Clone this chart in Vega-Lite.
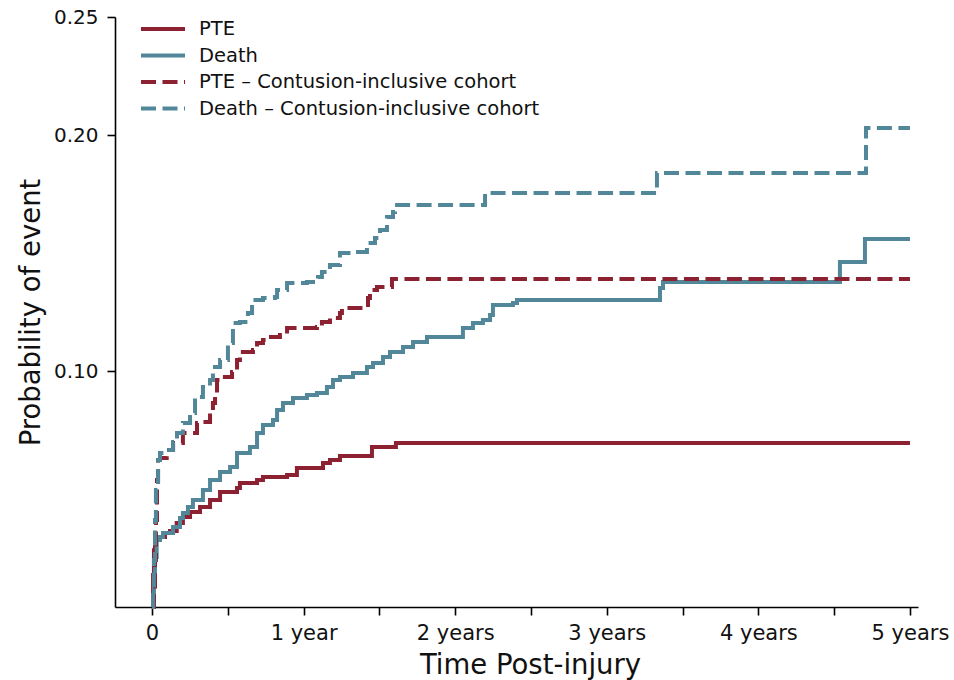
{
  "$schema": "https://vega.github.io/schema/vega-lite/v6.json",
  "width": 803,
  "height": 590,
  "autosize": {"type": "none"},
  "padding": {"left": 115, "top": 17, "right": 36, "bottom": 73},
  "background": "white",
  "config": {
    "view": {"stroke": null},
    "font": "DejaVu Sans",
    "axis": {
      "labelFont": "DejaVu Sans",
      "titleFont": "DejaVu Sans",
      "labelFontSize": 20,
      "titleFontSize": 27.5,
      "titleFontWeight": "normal",
      "labelColor": "#111111",
      "titleColor": "#111111",
      "domainColor": "#000000",
      "domainWidth": 1.6,
      "tickColor": "#000000",
      "tickWidth": 1.6,
      "tickSize": 8,
      "grid": false
    }
  },
  "data": {
    "values": [
      {"series": "PTE", "t": 0, "p": 0},
      {"series": "PTE", "t": 0.007, "p": 0.0136},
      {"series": "PTE", "t": 0.013, "p": 0.024},
      {"series": "PTE", "t": 0.02, "p": 0.0297},
      {"series": "PTE", "t": 0.086, "p": 0.0314},
      {"series": "PTE", "t": 0.119, "p": 0.0322},
      {"series": "PTE", "t": 0.163, "p": 0.0356},
      {"series": "PTE", "t": 0.204, "p": 0.0381},
      {"series": "PTE", "t": 0.251, "p": 0.0403},
      {"series": "PTE", "t": 0.317, "p": 0.0424},
      {"series": "PTE", "t": 0.383, "p": 0.0453},
      {"series": "PTE", "t": 0.449, "p": 0.0487},
      {"series": "PTE", "t": 0.561, "p": 0.0504},
      {"series": "PTE", "t": 0.58, "p": 0.0525},
      {"series": "PTE", "t": 0.693, "p": 0.0538},
      {"series": "PTE", "t": 0.732, "p": 0.0551},
      {"series": "PTE", "t": 0.891, "p": 0.0559},
      {"series": "PTE", "t": 0.956, "p": 0.0589},
      {"series": "PTE", "t": 1.128, "p": 0.061},
      {"series": "PTE", "t": 1.174, "p": 0.0623},
      {"series": "PTE", "t": 1.24, "p": 0.064},
      {"series": "PTE", "t": 1.451, "p": 0.0678},
      {"series": "PTE", "t": 1.609, "p": 0.0695},
      {"series": "PTE", "t": 5.0, "p": 0.0695},

      {"series": "Death", "t": 0, "p": 0},
      {"series": "Death", "t": 0.007, "p": 0.003},
      {"series": "Death", "t": 0.013, "p": 0.0136},
      {"series": "Death", "t": 0.02, "p": 0.0212},
      {"series": "Death", "t": 0.031, "p": 0.0284},
      {"series": "Death", "t": 0.053, "p": 0.0297},
      {"series": "Death", "t": 0.073, "p": 0.0314},
      {"series": "Death", "t": 0.139, "p": 0.0339},
      {"series": "Death", "t": 0.185, "p": 0.0377},
      {"series": "Death", "t": 0.204, "p": 0.0398},
      {"series": "Death", "t": 0.237, "p": 0.0424},
      {"series": "Death", "t": 0.27, "p": 0.0453},
      {"series": "Death", "t": 0.336, "p": 0.0496},
      {"series": "Death", "t": 0.383, "p": 0.0538},
      {"series": "Death", "t": 0.449, "p": 0.0572},
      {"series": "Death", "t": 0.515, "p": 0.0593},
      {"series": "Death", "t": 0.561, "p": 0.0653},
      {"series": "Death", "t": 0.646, "p": 0.0678},
      {"series": "Death", "t": 0.693, "p": 0.0737},
      {"series": "Death", "t": 0.732, "p": 0.0771},
      {"series": "Death", "t": 0.798, "p": 0.0792},
      {"series": "Death", "t": 0.825, "p": 0.0835},
      {"series": "Death", "t": 0.864, "p": 0.0864},
      {"series": "Death", "t": 0.93, "p": 0.0886},
      {"series": "Death", "t": 1.022, "p": 0.0898},
      {"series": "Death", "t": 1.088, "p": 0.0907},
      {"series": "Death", "t": 1.154, "p": 0.0932},
      {"series": "Death", "t": 1.194, "p": 0.0962},
      {"series": "Death", "t": 1.24, "p": 0.0975},
      {"series": "Death", "t": 1.326, "p": 0.0992},
      {"series": "Death", "t": 1.418, "p": 0.1017},
      {"series": "Death", "t": 1.458, "p": 0.1034},
      {"series": "Death", "t": 1.524, "p": 0.1059},
      {"series": "Death", "t": 1.57, "p": 0.1081},
      {"series": "Death", "t": 1.656, "p": 0.1102},
      {"series": "Death", "t": 1.722, "p": 0.1123},
      {"series": "Death", "t": 1.814, "p": 0.1144},
      {"series": "Death", "t": 2.051, "p": 0.1182},
      {"series": "Death", "t": 2.117, "p": 0.1203},
      {"series": "Death", "t": 2.183, "p": 0.1216},
      {"series": "Death", "t": 2.23, "p": 0.1237},
      {"series": "Death", "t": 2.249, "p": 0.128},
      {"series": "Death", "t": 2.381, "p": 0.1288},
      {"series": "Death", "t": 2.408, "p": 0.1301},
      {"series": "Death", "t": 3.351, "p": 0.1352},
      {"series": "Death", "t": 3.371, "p": 0.1377},
      {"series": "Death", "t": 4.538, "p": 0.1462},
      {"series": "Death", "t": 4.703, "p": 0.1559},
      {"series": "Death", "t": 5.0, "p": 0.1559},

      {"series": "PTE – Contusion-inclusive cohort", "t": 0, "p": 0},
      {"series": "PTE – Contusion-inclusive cohort", "t": 0.013, "p": 0.0072},
      {"series": "PTE – Contusion-inclusive cohort", "t": 0.02, "p": 0.0199},
      {"series": "PTE – Contusion-inclusive cohort", "t": 0.026, "p": 0.0369},
      {"series": "PTE – Contusion-inclusive cohort", "t": 0.033, "p": 0.0538},
      {"series": "PTE – Contusion-inclusive cohort", "t": 0.04, "p": 0.0623},
      {"series": "PTE – Contusion-inclusive cohort", "t": 0.053, "p": 0.0631},
      {"series": "PTE – Contusion-inclusive cohort", "t": 0.097, "p": 0.0665},
      {"series": "PTE – Contusion-inclusive cohort", "t": 0.139, "p": 0.0695},
      {"series": "PTE – Contusion-inclusive cohort", "t": 0.204, "p": 0.0737},
      {"series": "PTE – Contusion-inclusive cohort", "t": 0.297, "p": 0.078},
      {"series": "PTE – Contusion-inclusive cohort", "t": 0.336, "p": 0.0784},
      {"series": "PTE – Contusion-inclusive cohort", "t": 0.383, "p": 0.0822},
      {"series": "PTE – Contusion-inclusive cohort", "t": 0.402, "p": 0.0864},
      {"series": "PTE – Contusion-inclusive cohort", "t": 0.416, "p": 0.0898},
      {"series": "PTE – Contusion-inclusive cohort", "t": 0.429, "p": 0.0962},
      {"series": "PTE – Contusion-inclusive cohort", "t": 0.449, "p": 0.0975},
      {"series": "PTE – Contusion-inclusive cohort", "t": 0.528, "p": 0.0996},
      {"series": "PTE – Contusion-inclusive cohort", "t": 0.561, "p": 0.1047},
      {"series": "PTE – Contusion-inclusive cohort", "t": 0.58, "p": 0.1081},
      {"series": "PTE – Contusion-inclusive cohort", "t": 0.666, "p": 0.1089},
      {"series": "PTE – Contusion-inclusive cohort", "t": 0.693, "p": 0.1119},
      {"series": "PTE – Contusion-inclusive cohort", "t": 0.732, "p": 0.1131},
      {"series": "PTE – Contusion-inclusive cohort", "t": 0.759, "p": 0.1144},
      {"series": "PTE – Contusion-inclusive cohort", "t": 0.844, "p": 0.1153},
      {"series": "PTE – Contusion-inclusive cohort", "t": 0.891, "p": 0.1182},
      {"series": "PTE – Contusion-inclusive cohort", "t": 1.088, "p": 0.1186},
      {"series": "PTE – Contusion-inclusive cohort", "t": 1.121, "p": 0.1208},
      {"series": "PTE – Contusion-inclusive cohort", "t": 1.174, "p": 0.1225},
      {"series": "PTE – Contusion-inclusive cohort", "t": 1.24, "p": 0.1246},
      {"series": "PTE – Contusion-inclusive cohort", "t": 1.253, "p": 0.1267},
      {"series": "PTE – Contusion-inclusive cohort", "t": 1.418, "p": 0.1271},
      {"series": "PTE – Contusion-inclusive cohort", "t": 1.425, "p": 0.1309},
      {"series": "PTE – Contusion-inclusive cohort", "t": 1.438, "p": 0.1343},
      {"series": "PTE – Contusion-inclusive cohort", "t": 1.484, "p": 0.1356},
      {"series": "PTE – Contusion-inclusive cohort", "t": 1.583, "p": 0.139},
      {"series": "PTE – Contusion-inclusive cohort", "t": 5.0, "p": 0.139},

      {"series": "Death – Contusion-inclusive cohort", "t": 0, "p": 0},
      {"series": "Death – Contusion-inclusive cohort", "t": 0.007, "p": 0.0072},
      {"series": "Death – Contusion-inclusive cohort", "t": 0.013, "p": 0.0199},
      {"series": "Death – Contusion-inclusive cohort", "t": 0.02, "p": 0.0369},
      {"series": "Death – Contusion-inclusive cohort", "t": 0.026, "p": 0.0496},
      {"series": "Death – Contusion-inclusive cohort", "t": 0.04, "p": 0.0623},
      {"series": "Death – Contusion-inclusive cohort", "t": 0.053, "p": 0.0653},
      {"series": "Death – Contusion-inclusive cohort", "t": 0.086, "p": 0.0665},
      {"series": "Death – Contusion-inclusive cohort", "t": 0.139, "p": 0.0699},
      {"series": "Death – Contusion-inclusive cohort", "t": 0.165, "p": 0.0737},
      {"series": "Death – Contusion-inclusive cohort", "t": 0.204, "p": 0.078},
      {"series": "Death – Contusion-inclusive cohort", "t": 0.251, "p": 0.0822},
      {"series": "Death – Contusion-inclusive cohort", "t": 0.284, "p": 0.089},
      {"series": "Death – Contusion-inclusive cohort", "t": 0.336, "p": 0.0932},
      {"series": "Death – Contusion-inclusive cohort", "t": 0.383, "p": 0.0962},
      {"series": "Death – Contusion-inclusive cohort", "t": 0.402, "p": 0.1017},
      {"series": "Death – Contusion-inclusive cohort", "t": 0.449, "p": 0.1047},
      {"series": "Death – Contusion-inclusive cohort", "t": 0.501, "p": 0.1119},
      {"series": "Death – Contusion-inclusive cohort", "t": 0.534, "p": 0.1203},
      {"series": "Death – Contusion-inclusive cohort", "t": 0.58, "p": 0.1208},
      {"series": "Death – Contusion-inclusive cohort", "t": 0.633, "p": 0.1246},
      {"series": "Death – Contusion-inclusive cohort", "t": 0.66, "p": 0.1301},
      {"series": "Death – Contusion-inclusive cohort", "t": 0.732, "p": 0.1309},
      {"series": "Death – Contusion-inclusive cohort", "t": 0.811, "p": 0.1314},
      {"series": "Death – Contusion-inclusive cohort", "t": 0.825, "p": 0.1343},
      {"series": "Death – Contusion-inclusive cohort", "t": 0.891, "p": 0.1373},
      {"series": "Death – Contusion-inclusive cohort", "t": 1.022, "p": 0.1377},
      {"series": "Death – Contusion-inclusive cohort", "t": 1.095, "p": 0.1398},
      {"series": "Death – Contusion-inclusive cohort", "t": 1.121, "p": 0.1419},
      {"series": "Death – Contusion-inclusive cohort", "t": 1.174, "p": 0.1449},
      {"series": "Death – Contusion-inclusive cohort", "t": 1.24, "p": 0.15},
      {"series": "Death – Contusion-inclusive cohort", "t": 1.326, "p": 0.1504},
      {"series": "Death – Contusion-inclusive cohort", "t": 1.418, "p": 0.1542},
      {"series": "Death – Contusion-inclusive cohort", "t": 1.471, "p": 0.1564},
      {"series": "Death – Contusion-inclusive cohort", "t": 1.504, "p": 0.1597},
      {"series": "Death – Contusion-inclusive cohort", "t": 1.55, "p": 0.1653},
      {"series": "Death – Contusion-inclusive cohort", "t": 1.59, "p": 0.1674},
      {"series": "Death – Contusion-inclusive cohort", "t": 1.603, "p": 0.1703},
      {"series": "Death – Contusion-inclusive cohort", "t": 2.197, "p": 0.1754},
      {"series": "Death – Contusion-inclusive cohort", "t": 3.331, "p": 0.1839},
      {"series": "Death – Contusion-inclusive cohort", "t": 4.71, "p": 0.203},
      {"series": "Death – Contusion-inclusive cohort", "t": 5.0, "p": 0.203}
    ]
  },
  "mark": {"type": "line", "interpolate": "step-after", "strokeWidth": 4, "strokeCap": "butt", "clip": false},
  "encoding": {
    "x": {
      "field": "t",
      "type": "quantitative",
      "scale": {"domain": [-0.244, 5.053], "nice": false, "zero": false},
      "axis": {
        "title": "Time Post-injury",
        "values": [0, 0.5, 1, 1.5, 2, 2.5, 3, 3.5, 4, 4.5, 5],
        "labelExpr": "datum.value == 0 ? '0' : (datum.value % 1 != 0 ? '' : (datum.value == 1 ? '1 year' : datum.value + ' years'))",
        "labelFontSize": 21,
        "labelPadding": 7,
        "titlePadding": 8,
        "titleX": 415,
        "labelFlush": false,
        "labelOverlap": false
      }
    },
    "y": {
      "field": "p",
      "type": "quantitative",
      "scale": {"domain": [0, 0.25], "nice": false},
      "axis": {
        "title": "Probability of event",
        "values": [0.1, 0.2, 0.25],
        "format": ".2f",
        "labelPadding": 9,
        "titlePadding": 8,
        "labelFlush": false,
        "labelOverlap": false
      }
    },
    "color": {
      "field": "series",
      "type": "nominal",
      "sort": null,
      "scale": {
        "domain": ["PTE", "Death", "PTE – Contusion-inclusive cohort", "Death – Contusion-inclusive cohort"],
        "range": ["#8c2132", "#518799", "#8c2132", "#518799"]
      },
      "legend": {
        "title": null,
        "orient": "none",
        "legendX": 24,
        "legendY": 0,
        "padding": 0,
        "symbolType": "M-1,0H3.4",
        "symbolSize": 400,
        "symbolStrokeWidth": 4,
        "labelFont": "DejaVu Sans",
        "labelFontSize": 19.5,
        "labelColor": "#111111",
        "labelOffset": 36,
        "rowPadding": 4.5,
        "labelLimit": 600
      }
    },
    "strokeDash": {
      "field": "series",
      "type": "nominal",
      "sort": null,
      "scale": {
        "domain": ["PTE", "Death", "PTE – Contusion-inclusive cohort", "Death – Contusion-inclusive cohort"],
        "range": [[1, 0], [1, 0], [15, 6.5], [15, 6.5]]
      },
      "legend": {
        "title": null,
        "orient": "none",
        "legendX": 24,
        "legendY": 0,
        "padding": 0,
        "symbolType": "M-1,0H3.4",
        "symbolSize": 400,
        "symbolStrokeWidth": 4,
        "labelFont": "DejaVu Sans",
        "labelFontSize": 19.5,
        "labelColor": "#111111",
        "labelOffset": 36,
        "rowPadding": 4.5,
        "labelLimit": 600
      }
    }
  }
}
